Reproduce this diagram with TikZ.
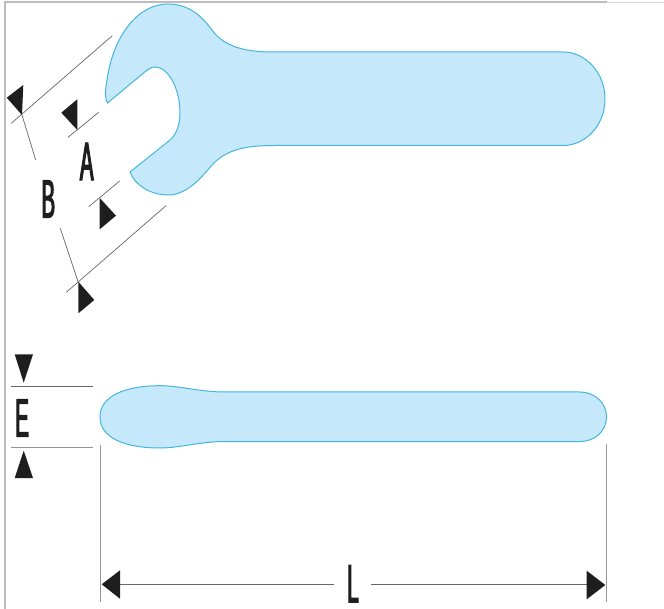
\documentclass[tikz,border=0pt]{standalone}
\usepackage{fontspec}
\setmainfont{Liberation Sans}
\newfontface\dimfont[FakeStretch=0.38,FakeBold=2]{Liberation Sans}
\definecolor{toolfill}{HTML}{C5E8FA}
\definecolor{toolline}{HTML}{45B5DF}
\definecolor{framegray}{HTML}{BDBDBD}
\definecolor{dimline}{HTML}{666666}
\definecolor{tipblack}{HTML}{1E1E1E}
\tikzset{
  tool/.style={fill=toolfill,draw=toolline,line width=1pt},
  dimrule/.style={draw=dimline,line width=0.7pt},
  extrule/.style={draw=framegray!80!black,line width=1pt},
  tip/.style={fill=tipblack,draw=none},
  letter/.style={inner sep=0pt,font=\dimfont\fontsize{54}{54}\selectfont,text=tipblack}
}
\begin{document}
\begin{tikzpicture}[x=1pt,y=-1pt]
\useasboundingbox (0,0) rectangle (664,609);
% frame
\draw[framegray,line width=1.8pt] (5,609) -- (5,2) -- (607,2);
\draw[framegray!60,line width=1.4pt] (607,2.5) -- (664,2.5);
% wrench, side on
\draw[tool] (107.5,103)
  .. controls (104,97) and (106,85) .. (108,74)
  .. controls (115,35) and (138,4) .. (168,4)
  .. controls (188,4) and (201,15) .. (212,30)
  .. controls (222,44) and (240,52) .. (272,52)
  -- (563,52)
  .. controls (586,52) and (605,73) .. (605,99)
  .. controls (605,125) and (586,145.5) .. (563,145.5)
  -- (275,145.5)
  .. controls (250,145.5) and (230,148) .. (215,162)
  .. controls (205,172) and (190,195) .. (168,195)
  .. controls (152,195) and (135,186) .. (130,172)
  -- (170,140)
  .. controls (176,135) and (180,125) .. (180,113)
  .. controls (180,88) and (168,67) .. (155,67)
  .. controls (151,67) and (149,69) .. (146,71)
  -- cycle;
% wrench, edge on
\draw[tool] (100,417)
  .. controls (100,396) and (125,385.7) .. (160,385.7)
  .. controls (180,385.7) and (200,392) .. (225,392)
  -- (580,392)
  .. controls (595,392) and (606.5,403) .. (606.5,417)
  .. controls (606.5,431) and (595,441.5) .. (580,441.5)
  -- (225,441.5)
  .. controls (200,441.5) and (180,448) .. (160,448)
  .. controls (125,448) and (100,438) .. (100,417) -- cycle;
% dimension A
\draw[dimrule] (68,137.3) -- (98.7,112.3);
\fill[tip] (77.3,99.3) -- (61.3,112.7) -- (77.3,130) -- cycle;
\draw[dimrule] (88.7,206.7) -- (119.7,181);
\fill[tip] (99.7,198) -- (116,215.7) -- (99.7,229.3) -- cycle;
\node[letter] (labelA) at (86.7,161.5) {A};
% dimension B
\draw[dimrule] (11.3,123.3) -- (112.3,35.7);
\fill[tip] (23.3,85) -- (6.7,97.7) -- (22,115) -- cycle;
\draw[dimrule] (22,115) -- (35.7,160);
\draw[dimrule] (60.3,228.3) -- (78.3,282.3);
\draw[dimrule] (66.3,292.3) -- (166,205.7);
\fill[tip] (78.3,281.7) -- (94.3,300) -- (78.3,313.3) -- cycle;
\node[letter] (labelB) at (48.3,199) {B};
% dimension E
\draw[dimrule] (11,386) -- (93,386);
\draw[dimrule,draw=dimline!70] (11,447.7) -- (93,447.7);
\fill[tip] (14.7,354.3) -- (33,354.3) -- (23.7,382.7) -- cycle;
\fill[tip] (23.7,450.7) -- (14.7,478) -- (33,478) -- cycle;
\node[letter] (labelE) at (22,418) {E};
% dimension L
\draw[extrule] (100,445) -- (100,601.7);
\draw[extrule] (606.5,444) -- (606.5,601.7);
\draw[dimrule] (120,584.3) -- (334,584.3);
\draw[dimrule] (370.7,584.3) -- (587,584.3);
\fill[tip] (101.7,584.3) -- (120,570.3) -- (120,598.7) -- cycle;
\fill[tip] (605.3,585) -- (586.7,570.7) -- (586.7,599.3) -- cycle;
\node[letter] (labelL) at (353,583.7) {L};
\end{tikzpicture}
\end{document}
